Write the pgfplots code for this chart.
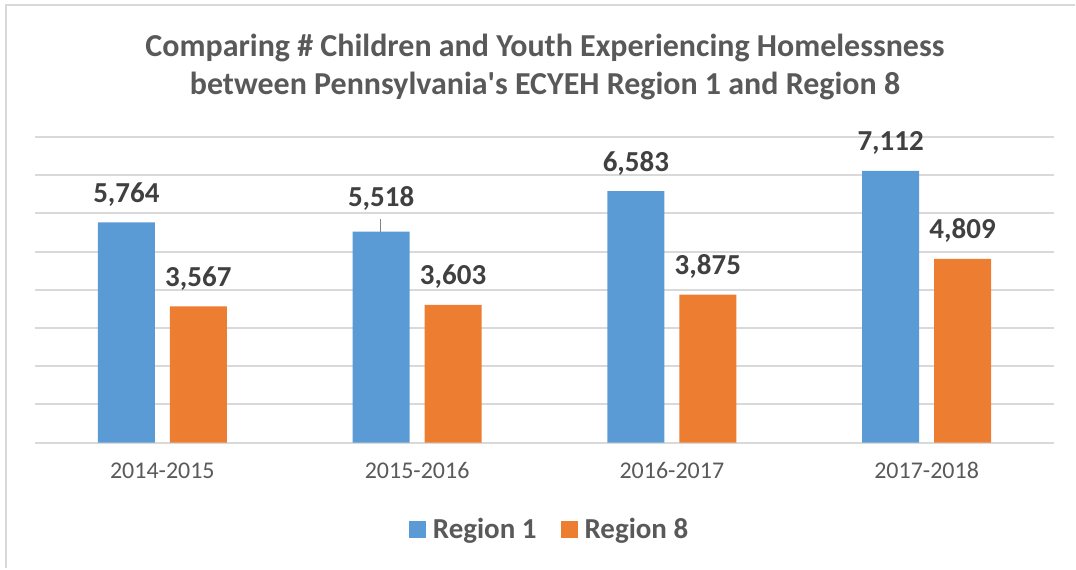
\documentclass[border=0pt]{standalone}
\usepackage{pgfplots}
\pgfplotsset{compat=1.18}
\usepackage{pgfplotstable}
\usepackage{fontspec}
\setmainfont{Carlito}
\newfontfamily\plainfont{Carlito}
\definecolor{blueR}{HTML}{5B9BD5}
\definecolor{orangeR}{HTML}{ED7D31}
\definecolor{gridc}{HTML}{D9D9D9}
\definecolor{titlec}{HTML}{595959}
\definecolor{valc}{HTML}{404040}

\pgfplotstableread{
x y shift
0 5764 20
1 5518 25
2 6583 20
3 7112 20
}\regionone
\pgfplotstableread{
x y shift
0 3567 20
1 3603 20
2 3875 20
3 4809 20
}\regioneight

\begin{document}
\begin{tikzpicture}[x=1pt,y=1pt]
\path (0,0) rectangle (1076,569);
% outer frame (left and top visible)
\draw[gridc, line width=2pt] (6,0) -- (6,564) -- (1076,564);
% title
\node[anchor=base, text=titlec, font=\plainfont\fontsize{32}{36}\selectfont\bfseries] at (545.5,569-57) {Comparing \# Children and Youth Experiencing Homelessness};
\node[anchor=base, text=titlec, font=\plainfont\fontsize{32}{36}\selectfont\bfseries] at (545.5,569-95) {between Pennsylvania's ECYEH Region 1 and Region 8};
\begin{axis}[
  at={(35pt,126pt)}, anchor=south west,
  scale only axis, width=1020pt, height=306pt,
  xmin=-0.5, xmax=3.5, ymin=0, ymax=8000,
  axis line style={draw=none},
  ytick={0,1000,...,8000}, yticklabels={},
  ymajorgrids, grid style={gridc, line width=2pt},
  major tick length=0pt,
  xtick={0,1,2,3},
  xticklabels={2014-2015,2015-2016,2016-2017,2017-2018},
  xticklabel style={anchor=base, yshift=-36pt, text=titlec, font=\fontsize{24}{28}\selectfont},
  ybar, bar width=57pt,
  clip=false,
  /pgf/number format/1000 sep={,},
  /pgf/number format/assume math mode=true,
  nodes near coords,
  nodes near coords style={anchor=base, inner sep=0pt, yshift=\myshift pt, text=valc, font=\fontsize{29}{34}\selectfont\bfseries},
  visualization depends on={\thisrow{shift} \as \myshift},
  legend columns=2,
  legend style={draw=none, fill=none, at={(0.505,-0.284)}, anchor=center,
    font=\fontsize{29}{32}\selectfont\bfseries, text=titlec,
    /tikz/every odd column/.append style={column sep=5pt},
    /tikz/every even column/.append style={column sep=22pt}},
  legend image code/.code={\fill[#1] (0pt,-8.5pt) rectangle (17pt,8.5pt);},
]
\addplot[fill=blueR, draw=none, bar shift=-36pt] table[x=x,y=y] {\regionone};
\addlegendentry{Region 1}
\addplot[fill=orangeR, draw=none, bar shift=36pt] table[x=x,y=y] {\regioneight};
\addlegendentry{Region 8}
\draw[gridc!60!black, line width=1pt] (axis cs:0.857,5518) -- (axis cs:0.857,5856);
\end{axis}
\end{tikzpicture}
\end{document}
